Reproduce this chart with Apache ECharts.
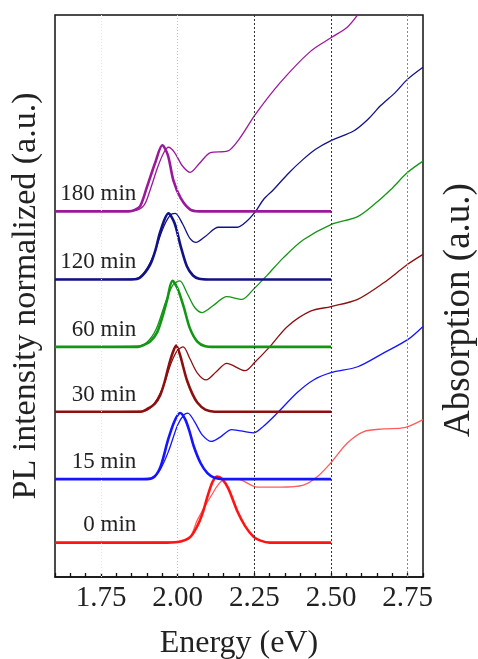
<!DOCTYPE html>
<html>
<head>
<meta charset="utf-8">
<title>PL / Absorption</title>
<script src="https://cdn.jsdelivr.net/npm/echarts@6/dist/echarts.min.js"></script>
<style>
html,body{margin:0;padding:0;background:#fff;}
#main{width:478px;height:659px;}
</style>
</head>
<body>
<div id="main"></div>
<script>
// 样品（反应时间）
var times=['0 min','15 min','30 min','60 min','120 min','180 min'];
var plColors=['#ff1414','#1414ff','#8c1010','#139613','#121288','#9b189b'];
var absColors=['#ff5c5c','#1414ff','#8c1010','#139613','#121288','#9b189b'];
// 每组曲线的纵向偏移 (a.u.)
var offsets=[0.52,1.48,2.50,3.48,4.50,5.53];

// x轴刻度
var majorTicks=[1.75,2.00,2.25,2.50,2.75];
var refLines=[1.75,2.00,2.25,2.50,2.75];

// PL 归一化强度  [E(eV), I]
var pl0=[[1.60,0],[1.95,0],[2.00,0.01],[2.04,0.08],[2.065,0.26],[2.083,0.47],[2.10,0.74],[2.115,0.93],[2.129,1],[2.145,0.96],[2.165,0.82],[2.195,0.47],[2.22,0.25],[2.247,0.09],[2.27,0.03],[2.30,0],[2.50,0]];
var pl15=[[1.60,0],[1.90,0],[1.925,0.04],[1.945,0.2],[1.969,0.6],[1.99,0.88],[2.008,1],[2.025,0.9],[2.04,0.7],[2.053,0.49],[2.075,0.24],[2.097,0.09],[2.12,0.02],[2.15,0],[2.50,0]];
var pl30=[[1.60,0],[1.88,0],[1.90,0.04],[1.925,0.12],[1.943,0.25],[1.958,0.46],[1.97,0.68],[1.983,0.88],[1.995,1],[2.007,0.87],[2.018,0.68],[2.03,0.48],[2.048,0.27],[2.064,0.14],[2.09,0.03],[2.12,0],[2.50,0]];
var pl60=[[1.60,0],[1.87,0],[1.89,0.03],[1.91,0.08],[1.933,0.22],[1.95,0.45],[1.966,0.72],[1.983,1],[2.00,0.88],[2.02,0.6],[2.04,0.28],[2.064,0.08],[2.09,0.01],[2.12,0],[2.50,0]];
var pl120=[[1.60,0],[1.85,0],[1.878,0.03],[1.91,0.22],[1.928,0.45],[1.943,0.72],[1.97,1],[1.99,0.85],[2.01,0.5],[2.03,0.2],[2.05,0.06],[2.07,0.01],[2.10,0],[2.50,0]];
var pl180=[[1.60,0],[1.84,0],[1.86,0.02],[1.878,0.08],[1.90,0.37],[1.927,0.74],[1.95,1],[1.968,0.85],[1.986,0.47],[2.01,0.2],[2.04,0.03],[2.07,0],[2.50,0]];

// 吸收谱 (a.u.) [E(eV), A]
var abs0=[[1.60,0.52],[2.00,0.53],[2.04,0.6],[2.064,0.86],[2.107,1.21],[2.15,1.47],[2.195,1.48],[2.26,1.36],[2.335,1.36],[2.41,1.39],[2.456,1.52],[2.50,1.73],[2.554,2.03],[2.607,2.2],[2.672,2.24],[2.74,2.26],[2.80,2.38]];
var abs15=[[1.60,1.48],[1.91,1.49],[1.94,1.6],[1.97,1.9],[2.00,2.3],[2.02,2.45],[2.033,2.48],[2.055,2.35],[2.08,2.15],[2.11,2.05],[2.14,2.12],[2.176,2.23],[2.247,2.18],[2.28,2.28],[2.325,2.48],[2.39,2.79],[2.443,2.98],[2.50,3.09],[2.587,3.18],[2.672,3.39],[2.75,3.59],[2.80,3.79]];
var abs30=[[1.60,2.50],[1.89,2.51],[1.92,2.6],[1.95,2.85],[1.98,3.25],[2.00,3.43],[2.018,3.48],[2.04,3.3],[2.065,3.08],[2.093,2.98],[2.125,3.1],[2.16,3.23],[2.22,3.12],[2.25,3.24],[2.30,3.48],[2.358,3.79],[2.433,4.02],[2.50,4.09],[2.587,4.2],[2.672,4.45],[2.75,4.73],[2.80,4.88]];
var abs60=[[1.60,3.48],[1.87,3.49],[1.90,3.55],[1.93,3.75],[1.96,4.15],[1.985,4.42],[2.007,4.48],[2.03,4.3],[2.055,4.08],[2.08,4.0],[2.12,4.12],[2.16,4.24],[2.21,4.2],[2.247,4.35],[2.293,4.57],[2.345,4.83],[2.41,5.1],[2.50,5.33],[2.587,5.45],[2.65,5.67],[2.695,5.86],[2.75,6.12],[2.80,6.29]];
var abs120=[[1.60,4.50],[1.86,4.51],[1.89,4.6],[1.92,4.85],[1.95,5.25],[1.975,5.47],[1.992,5.5],[2.015,5.35],[2.04,5.12],[2.06,5.06],[2.09,5.15],[2.133,5.29],[2.195,5.29],[2.225,5.38],[2.254,5.53],[2.28,5.71],[2.313,5.86],[2.36,6.1],[2.41,6.32],[2.45,6.47],[2.50,6.6],[2.575,6.75],[2.62,6.92],[2.662,7.13],[2.71,7.33],[2.75,7.53],[2.80,7.71]];
var abs180=[[1.60,5.53],[1.86,5.54],[1.89,5.62],[1.91,5.85],[1.935,6.2],[1.955,6.42],[1.97,6.5],[1.99,6.42],[2.015,6.22],[2.041,6.12],[2.07,6.25],[2.107,6.42],[2.162,6.44],[2.20,6.62],[2.254,7.0],[2.335,7.48],[2.433,7.95],[2.505,8.17],[2.554,8.32],[2.59,8.52],[2.61,8.65]];

var plData=[pl0,pl15,pl30,pl60,pl120,pl180];
var absData=[abs0,abs15,abs30,abs60,abs120,abs180];

var serif='Liberation Serif';

var seriesData=[];
// 参考竖线
var lineStyles={
	1.75:{color:'#e6e6e6',type:[1,2],width:1},
	2:{color:'#c4c4c4',type:[1,2],width:1},
	2.25:{color:'#333',type:[2,2],width:1},
	2.5:{color:'#333',type:[2,2],width:1},
	2.75:{color:'#888',type:[2,2],width:1}
};
var mlData=[];
for(var r=0;r<refLines.length;r++){
	mlData.push({xAxis:refLines[r],lineStyle:lineStyles[refLines[r]]});
}
seriesData.push({
	type:'line',
	data:[],
	z:1,
	silent:true,
	markLine:{
		silent:true,
		symbol:['none','none'],
		label:{show:false},
		animation:false,
		data:mlData
	}
});

for(var i=0;i<times.length;i++){
	var off=offsets[i];
	var pts=[];
	for(var j=0;j<plData[i].length;j++){
		pts.push([plData[i][j][0],plData[i][j][1]+off]);
	}
	// 吸收谱（细线）
	seriesData.push({
		name:times[i]+' Abs',
		type:'line',
		data:absData[i],
		showSymbol:false,
		smooth:0.3,
		z:3,
		lineStyle:{color:absColors[i],width:1.3}
	});
	// PL（粗线）
	seriesData.push({
		name:times[i]+' PL',
		type:'line',
		data:pts,
		showSymbol:false,
		smooth:0.3,
		z:4,
		lineStyle:{color:plColors[i],width:2.6},
		markPoint:{
			symbol:'circle',
			symbolSize:0,
			silent:true,
			data:[{coord:[1.865,off+0.26],name:times[i]}],
			label:{
				show:true,
				position:'left',
				distance:0,
				formatter:times[i],
				color:'#222',
				fontFamily:serif,
				fontSize:23
			}
		}
	});
}

var myChart=echarts.init(document.getElementById('main'));
var option={
	animation:false,
	backgroundColor:'#fff',
	grid:{
		left:55,right:55,top:15,bottom:82,
		outerBoundsMode:'none',
		show:true,
		borderColor:'#111',
		borderWidth:1.5,
		backgroundColor:'transparent'
	},
	xAxis:{
		type:'value',
		min:1.6,
		max:2.8,
		interval:0.05,
		position:'bottom',
		name:'Energy (eV)',
		nameLocation:'middle',
		nameGap:51,
		nameTextStyle:{fontFamily:serif,fontSize:32,color:'#222'},
		axisLine:{show:true,lineStyle:{color:'#111',width:1.5}},
		axisTick:{show:true,inside:true,length:4,lineStyle:{color:'#111',width:1.3}},
		axisLabel:{
			show:true,
			customValues:majorTicks,
			margin:7,
			fontFamily:serif,
			fontSize:29,
			color:'#222',
			formatter:function(v){return v.toFixed(2);}
		},
		splitLine:{show:false}
	},
	yAxis:[
		{
			type:'value',
			min:0,
			max:8.5,
			position:'left',
			name:'PL intensity normalized (a.u.)',
			nameLocation:'middle',
			nameRotate:90,
			nameGap:12,
			nameTextStyle:{fontFamily:serif,fontSize:34,color:'#222'},
			axisLine:{show:false},
			axisTick:{show:false},
			axisLabel:{show:false},
			splitLine:{show:false}
		},
		{
			type:'value',
			min:0,
			max:8.5,
			position:'right',
			name:'Absorption (a.u.)',
			nameLocation:'middle',
			nameRotate:90,
			nameGap:18,
			nameTextStyle:{fontFamily:serif,fontSize:37,color:'#222',padding:[0,28,0,0]},
			axisLine:{show:false},
			axisTick:{show:false},
			axisLabel:{show:false},
			splitLine:{show:false}
		}
	],
	series:seriesData
};
myChart.setOption(option);
</script>
</body>
</html>
